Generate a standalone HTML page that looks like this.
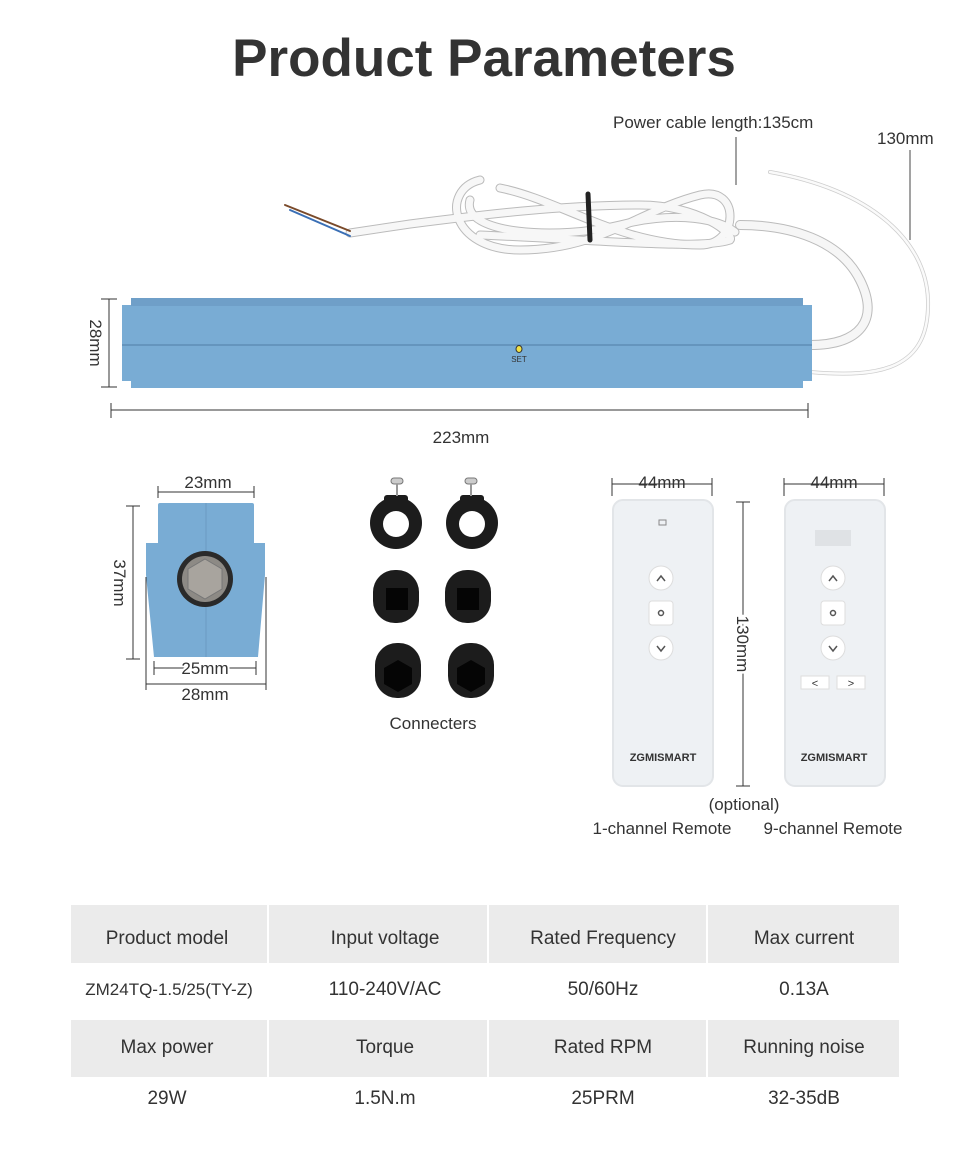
<!DOCTYPE html>
<html><head><meta charset="utf-8"><style>
html,body{margin:0;padding:0;background:#fff;width:970px;height:1156px;overflow:hidden}
svg{display:block}
text{font-family:"Liberation Sans",sans-serif;fill:#333}
</style></head><body>
<svg width="970" height="1156" viewBox="0 0 970 1156" xmlns="http://www.w3.org/2000/svg">
<text x="484" y="76" text-anchor="middle" font-size="53" font-weight="bold" fill="#333">Product Parameters</text>

<text x="613" y="128" font-size="17" fill="#444">Power cable length:135cm</text>
<line x1="736" y1="137" x2="736" y2="185" stroke="#444"/>
<text x="877" y="144" font-size="17" fill="#444">130mm</text>
<line x1="910" y1="150" x2="910" y2="240" stroke="#444"/>

<g fill="none" stroke-linecap="round">
<path d="M810 345 C 860 345, 880 320, 860 280 C 840 240, 790 225, 740 225" stroke="#bbb" stroke-width="10"/>
<path d="M810 345 C 860 345, 880 320, 860 280 C 840 240, 790 225, 740 225" stroke="#f6f6f6" stroke-width="8"/>
<path d="M810 372 C 880 378, 930 370, 928 300 C 926 240, 870 190, 770 172" stroke="#ccc" stroke-width="4"/>
<path d="M810 372 C 880 378, 930 370, 928 300 C 926 240, 870 190, 770 172" stroke="#fafafa" stroke-width="2.5"/>
<g stroke="#bbb" stroke-width="9">
<path d="M350 233 L 410 224 C 480 215, 560 205, 640 205 C 700 205, 735 235, 730 240 C 700 250, 600 240, 480 235"/>
<path d="M480 180 C 440 190, 450 250, 520 250 C 600 250, 640 210, 700 195 C 740 185, 740 245, 700 245 C 620 245, 560 200, 500 188"/>
<path d="M470 200 C 460 235, 560 240, 620 225 C 680 210, 720 220, 735 232"/>
</g>
<g stroke="#f7f7f7" stroke-width="7">
<path d="M350 233 L 410 224 C 480 215, 560 205, 640 205 C 700 205, 735 235, 730 240 C 700 250, 600 240, 480 235"/>
<path d="M480 180 C 440 190, 450 250, 520 250 C 600 250, 640 210, 700 195 C 740 185, 740 245, 700 245 C 620 245, 560 200, 500 188"/>
<path d="M470 200 C 460 235, 560 240, 620 225 C 680 210, 720 220, 735 232"/>
</g>
<line x1="290" y1="210" x2="350" y2="236" stroke="#3a6fb5" stroke-width="2"/>
<line x1="285" y1="205" x2="350" y2="231" stroke="#7a4a2a" stroke-width="2"/>
<path d="M588 194 L 590 240" stroke="#222" stroke-width="5"/>
</g>

<line x1="101" y1="299" x2="117" y2="299" stroke="#333"/>
<line x1="101" y1="387" x2="117" y2="387" stroke="#333"/>
<line x1="109" y1="299" x2="109" y2="387" stroke="#333"/>
<text transform="translate(90,343) rotate(90)" text-anchor="middle" font-size="17">28mm</text>
<rect x="122" y="305" width="690" height="76" fill="#79acd4"/>
<rect x="131" y="298" width="672" height="90" fill="#79acd4"/>
<rect x="131" y="298" width="672" height="8" fill="#6f9fc8"/>
<line x1="122" y1="345" x2="812" y2="345" stroke="#5f8db5" stroke-width="1.5"/>
<ellipse cx="519" cy="349" rx="3" ry="3.5" fill="#f1e146" stroke="#333"/>
<text x="519" y="362" text-anchor="middle" font-size="8" fill="#777">SET</text>
<line x1="111" y1="403" x2="111" y2="418" stroke="#333"/>
<line x1="808" y1="403" x2="808" y2="418" stroke="#333"/>
<line x1="111" y1="410" x2="808" y2="410" stroke="#333"/>
<text x="461" y="443" text-anchor="middle" font-size="17">223mm</text>

<text x="208" y="488" text-anchor="middle" font-size="17">23mm</text>
<line x1="158" y1="486" x2="158" y2="498" stroke="#333"/><line x1="254" y1="486" x2="254" y2="498" stroke="#333"/>
<line x1="158" y1="492" x2="254" y2="492" stroke="#333"/>
<line x1="126" y1="506" x2="140" y2="506" stroke="#333"/><line x1="126" y1="659" x2="140" y2="659" stroke="#333"/>
<line x1="133" y1="506" x2="133" y2="659" stroke="#333"/>
<text transform="translate(114,583) rotate(90)" text-anchor="middle" font-size="17">37mm</text>
<path d="M158 505 Q158 503 160 503 L252 503 Q254 503 254 505 L254 543 L265 543 L265 575 L258 657 L154 657 L146 575 L146 543 L158 543 Z" fill="#79acd4"/>
<line x1="206" y1="503" x2="206" y2="657" stroke="#6a9ac2"/>
<circle cx="205" cy="579" r="28" fill="#2a2a2a"/>
<circle cx="205" cy="579" r="23" fill="#8d8a85"/>
<polygon points="205,559 222,569 222,589 205,599 188,589 188,569" fill="#a8a49e" stroke="#777"/>
<line x1="154" y1="668" x2="256" y2="668" stroke="#333"/>
<line x1="154" y1="661" x2="154" y2="675" stroke="#333"/><line x1="256" y1="661" x2="256" y2="675" stroke="#333"/>
<text x="205" y="674" text-anchor="middle" font-size="17" style="paint-order:stroke" stroke="#fff" stroke-width="4">25mm</text>
<line x1="146" y1="684" x2="266" y2="684" stroke="#333"/>
<line x1="146" y1="577" x2="146" y2="690" stroke="#333"/><line x1="266" y1="577" x2="266" y2="690" stroke="#333"/>
<text x="205" y="700" text-anchor="middle" font-size="17">28mm</text>

<g fill="#1c1c1c">
<circle cx="396" cy="523" r="26"/><rect x="384" y="495" width="24" height="14" rx="3"/>
<circle cx="472" cy="523" r="26"/><rect x="460" y="495" width="24" height="14" rx="3"/>
<rect x="373" y="570" width="46" height="53" rx="22"/><rect x="445" y="570" width="46" height="53" rx="22"/>
<rect x="375" y="643" width="46" height="55" rx="22"/><rect x="448" y="643" width="46" height="55" rx="22"/>
</g>
<circle cx="396" cy="524" r="13" fill="#fff"/><circle cx="472" cy="524" r="13" fill="#fff"/>
<rect x="391" y="478" width="12" height="6" rx="3" fill="#ccc" stroke="#777"/><line x1="397" y1="484" x2="397" y2="496" stroke="#999" stroke-width="2"/>
<rect x="465" y="478" width="12" height="6" rx="3" fill="#ccc" stroke="#777"/><line x1="471" y1="484" x2="471" y2="496" stroke="#999" stroke-width="2"/>
<rect x="386" y="588" width="22" height="22" fill="#050505"/><rect x="457" y="588" width="22" height="22" fill="#050505"/>
<polygon points="398,660 412,668 412,684 398,692 384,684 384,668" fill="#050505"/>
<polygon points="471,660 485,668 485,684 471,692 457,684 457,668" fill="#050505"/>
<text x="433" y="729" text-anchor="middle" font-size="17">Connecters</text>

<text x="662" y="488" text-anchor="middle" font-size="17">44mm</text>
<line x1="612" y1="484" x2="712" y2="484" stroke="#333"/>
<line x1="612" y1="478" x2="612" y2="496" stroke="#333"/><line x1="712" y1="478" x2="712" y2="496" stroke="#333"/>
<text x="834" y="488" text-anchor="middle" font-size="17">44mm</text>
<line x1="784" y1="484" x2="884" y2="484" stroke="#333"/>
<line x1="784" y1="478" x2="784" y2="496" stroke="#333"/><line x1="884" y1="478" x2="884" y2="496" stroke="#333"/>
<rect x="613" y="500" width="100" height="286" rx="10" fill="#eef1f4" stroke="#e2e5e8" stroke-width="2"/>
<rect x="785" y="500" width="100" height="286" rx="10" fill="#eef1f4" stroke="#e2e5e8" stroke-width="2"/>
<line x1="736" y1="502" x2="750" y2="502" stroke="#333"/><line x1="736" y1="786" x2="750" y2="786" stroke="#333"/>
<line x1="743" y1="502" x2="743" y2="786" stroke="#333"/>
<text transform="translate(737,644) rotate(90)" text-anchor="middle" font-size="17" style="paint-order:stroke" stroke="#fff" stroke-width="5">130mm</text>
<rect x="659" y="520" width="7" height="5" fill="none" stroke="#888"/>
<rect x="815" y="530" width="36" height="16" fill="#dfe2e5"/>
<g fill="#fff" stroke="#ddd">
<circle cx="661" cy="578" r="12"/><rect x="649" y="601" width="24" height="24" rx="3"/><circle cx="661" cy="648" r="12"/>
<circle cx="833" cy="578" r="12"/><rect x="821" y="601" width="24" height="24" rx="3"/><circle cx="833" cy="648" r="12"/>
<rect x="801" y="676" width="28" height="13"/><rect x="837" y="676" width="28" height="13"/>
</g>
<g fill="none" stroke="#555" stroke-width="1.5">
<polyline points="657,581 661,576 665,581"/><circle cx="661" cy="613" r="2.5"/><polyline points="657,646 661,651 665,646"/>
<polyline points="829,581 833,576 837,581"/><circle cx="833" cy="613" r="2.5"/><polyline points="829,646 833,651 837,646"/>
</g>
<text x="815" y="687" text-anchor="middle" font-size="11" fill="#666">&lt;</text>
<text x="851" y="687" text-anchor="middle" font-size="11" fill="#666">&gt;</text>
<text x="663" y="761" text-anchor="middle" font-size="11" font-weight="bold" fill="#777">ZGMISMART</text>
<text x="834" y="761" text-anchor="middle" font-size="11" font-weight="bold" fill="#777">ZGMISMART</text>
<text x="744" y="810" text-anchor="middle" font-size="17">(optional)</text>
<text x="662" y="834" text-anchor="middle" font-size="17">1-channel Remote</text>
<text x="833" y="834" text-anchor="middle" font-size="17">9-channel Remote</text>

<g fill="#ebebeb">
<rect x="71" y="905" width="196" height="58"/><rect x="269" y="905" width="218" height="58"/><rect x="489" y="905" width="217" height="58"/><rect x="708" y="905" width="191" height="58"/>
<rect x="71" y="1020" width="196" height="57"/><rect x="269" y="1020" width="218" height="57"/><rect x="489" y="1020" width="217" height="57"/><rect x="708" y="1020" width="191" height="57"/>
</g>
<g font-size="19" text-anchor="middle" fill="#444">
<text x="167" y="944">Product model</text><text x="385" y="944">Input voltage</text><text x="603" y="944">Rated Frequency</text><text x="804" y="944">Max current</text>
<text x="169" y="995" font-size="17">ZM24TQ-1.5/25(TY-Z)</text><text x="385" y="995">110-240V/AC</text><text x="603" y="995">50/60Hz</text><text x="804" y="995">0.13A</text>
<text x="167" y="1053">Max power</text><text x="385" y="1053">Torque</text><text x="603" y="1053">Rated RPM</text><text x="804" y="1053">Running noise</text>
<text x="167" y="1104">29W</text><text x="385" y="1104">1.5N.m</text><text x="603" y="1104">25PRM</text><text x="804" y="1104">32-35dB</text>
</g>
</svg>
</body></html>
